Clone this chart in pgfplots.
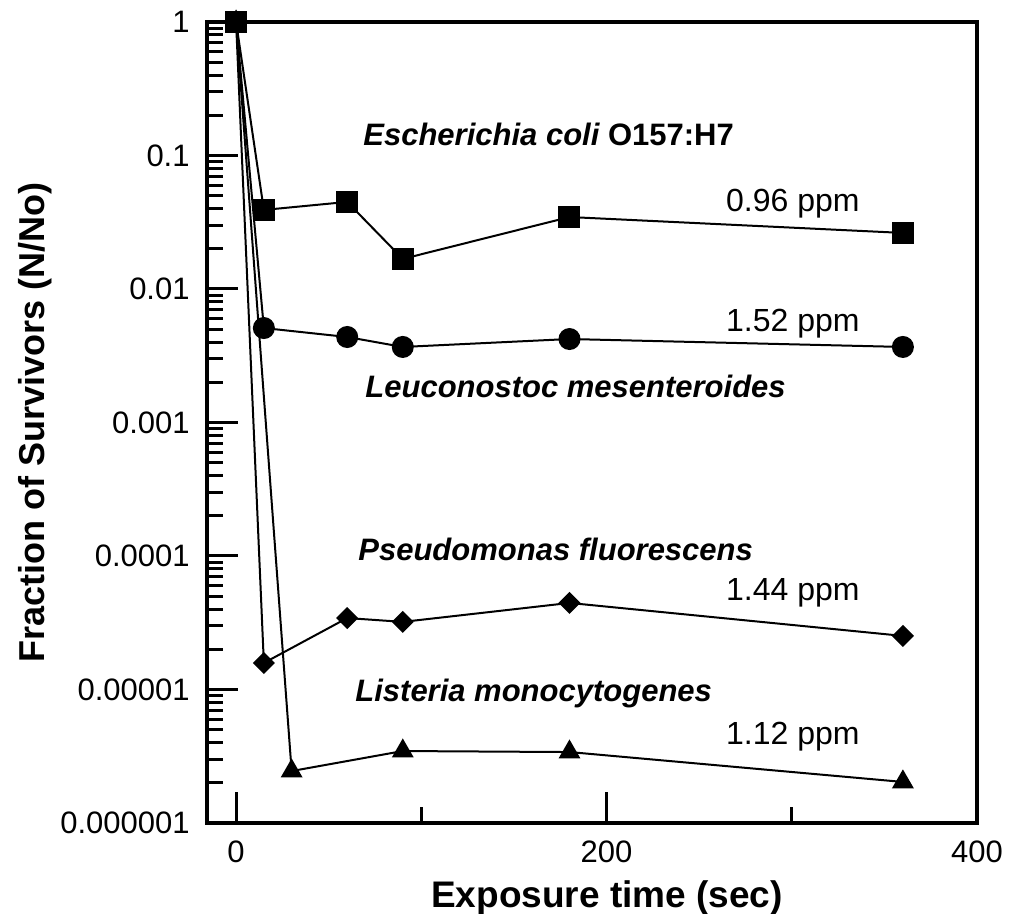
\documentclass[border=0pt]{standalone}
\usepackage{fontspec}
\setmainfont{Liberation Sans}
\usepackage{pgfplots}
\pgfplotsset{compat=1.18}

\newcommand{\species}{\fontsize{15.5}{18}\selectfont\bfseries\itshape}
\newcommand{\ppm}{\fontsize{16}{19}\selectfont}

\begin{document}
\begin{tikzpicture}
\begin{axis}[
    width=385pt, height=400.5pt, scale only axis,
    xmin=-15.7, xmax=400,
    ymode=log, ymin=1e-6, ymax=1,
    axis line style={line width=2pt},
    tick pos=left, tick align=inside,
    tick style={black, line width=1.5pt},
    major tick length=15.5pt, minor tick length=8pt,
    xtick={0,200,400}, xticklabels={0,200,400},
    minor xtick={100,300},
    ytick={1e-6,1e-5,1e-4,1e-3,1e-2,1e-1,1},
    yticklabels={0.000001,0.00001,0.0001,0.001,0.01,0.1,1},
    minor ytick={2e-6,3e-6,4e-6,5e-6,6e-6,7e-6,8e-6,9e-6,
                 2e-5,3e-5,4e-5,5e-5,6e-5,7e-5,8e-5,9e-5,
                 2e-4,3e-4,4e-4,5e-4,6e-4,7e-4,8e-4,9e-4,
                 2e-3,3e-3,4e-3,5e-3,6e-3,7e-3,8e-3,9e-3,
                 2e-2,3e-2,4e-2,5e-2,6e-2,7e-2,8e-2,9e-2,
                 0.2,0.3,0.4,0.5,0.6,0.7,0.8,0.9},
    /pgf/number format/assume math mode=true,
    ticklabel style={font=\fontsize{15.5}{18}\selectfont, inner sep=0pt},
    xticklabel style={anchor=north, yshift=-8.5pt},
    yticklabel style={anchor=east, xshift=-8.5pt},
    xlabel={Exposure time (sec)},
    ylabel={Fraction of Survivors (N/No)},
    xlabel style={font=\fontsize{18.5}{21}\selectfont\bfseries, inner sep=0pt,
                  at={(axis description cs:0.5195,0)}, anchor=base, yshift=-42pt},
    ylabel style={font=\fontsize{18}{21}\selectfont\bfseries, inner sep=0pt,
                  at={(axis description cs:-0.2104,0.5)}, anchor=base},
    every axis plot/.append style={black, line width=1pt},
]
% Listeria monocytogenes, 1.12 ppm
\addplot[mark=triangle*, mark size=5.3pt, mark options={fill=black}]
  coordinates {(0,1)(30,2.45e-6)(90,3.46e-6)(180,3.40e-6)(360,2.03e-6)};
% Pseudomonas fluorescens, 1.44 ppm
\addplot[mark=square*, mark size=3.4pt, mark options={fill=black, rotate=45}]
  coordinates {(0,1)(15,1.58e-5)(60,3.43e-5)(90,3.21e-5)(180,4.45e-5)(360,2.52e-5)};
% Leuconostoc mesenteroides, 1.52 ppm
\addplot[mark=*, mark size=5pt, mark options={fill=black}]
  coordinates {(0,1)(15,0.0051)(60,0.00437)(90,0.00368)(180,0.00422)(360,0.00368)};
% Escherichia coli O157:H7, 0.96 ppm
\addplot[mark=square*, mark size=5pt, mark options={fill=black}]
  coordinates {(0,1)(15,0.0391)(60,0.0449)(90,0.0168)(180,0.0346)(360,0.0263)};

\node[anchor=base west, inner sep=0pt] at (axis description cs:0.2026,0.8464)
  {\species Escherichia coli \upshape O157:H7};
\node[anchor=base east, inner sep=0pt] at (axis description cs:0.848,0.7628) {\ppm 0.96 ppm};
\node[anchor=base east, inner sep=0pt] at (axis description cs:0.848,0.6130) {\ppm 1.52 ppm};
\node[anchor=base west, inner sep=0pt] at (axis description cs:0.2052,0.5306)
  {\species Leuconostoc mesenteroides};
\node[anchor=base west, inner sep=0pt] at (axis description cs:0.1961,0.3283)
  {\species Pseudomonas fluorescens};
\node[anchor=base east, inner sep=0pt] at (axis description cs:0.848,0.2784) {\ppm 1.44 ppm};
\node[anchor=base west, inner sep=0pt] at (axis description cs:0.1922,0.1511)
  {\species Listeria monocytogenes};
\node[anchor=base east, inner sep=0pt] at (axis description cs:0.848,0.0974) {\ppm 1.12 ppm};
\end{axis}
\pgfresetboundingbox
\path[use as bounding box] (-103.5pt,-45.5pt) rectangle (405.5pt,411.5pt);
\end{tikzpicture}
\end{document}
